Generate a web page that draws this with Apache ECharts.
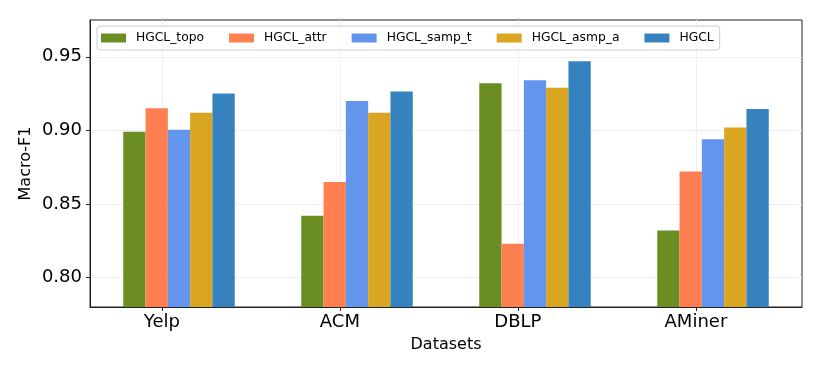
<!DOCTYPE html>
<html>
<head>
<meta charset="utf-8">
<script src="https://cdn.jsdelivr.net/npm/echarts@6/dist/echarts.min.js"></script>
<style>
	html, body { margin: 0; padding: 0; background: #fff; }
	#chart { width: 822px; height: 374px; }
</style>
</head>
<body>
<div id="chart"></div>
<script>
// datasets and methods
var datasets = ['Yelp', 'ACM', 'DBLP', 'AMiner'];
var methods = ['HGCL_topo', 'HGCL_attr', 'HGCL_samp_t', 'HGCL_asmp_a', 'HGCL'];
var colors = ['#6B8E23', '#FF7F50', '#6495ED', '#DAA520', '#3682BE'];

// Macro-F1 per dataset (Yelp, ACM, DBLP, AMiner)
var topoVals = [0.899, 0.842, 0.932, 0.832];
var attrVals = [0.915, 0.865, 0.823, 0.872];
var sampVals = [0.9005, 0.920, 0.934, 0.894];
var asmpVals = [0.912, 0.912, 0.929, 0.902];
var hgclVals = [0.925, 0.9265, 0.947, 0.9145];
var allVals = [topoVals, attrVals, sampVals, asmpVals, hgclVals];

var yTicks = [0.80, 0.85, 0.90, 0.95];
var xTicks = [0, 1, 2, 3];

var font = 'DejaVu Sans';
var myChart = echarts.init(document.getElementById('chart'));

var series = [];
for (var i = 0; i < methods.length; i++) {
	series.push({
		name: methods[i],
		type: 'bar',
		xAxisIndex: 0,
		barWidth: 22.3,
		barGap: '0%',
		itemStyle: { color: colors[i] },
		data: allVals[i]
	});
}

var option = {
	backgroundColor: '#fff',
	animation: false,
	textStyle: { fontFamily: font },
	grid: {
		left: 90, right: 20, top: 20, bottom: 67,
		show: true,
		borderColor: '#222',
		borderWidth: 1
	},
	legend: {
		left: 97,
		top: 26,
		padding: [6, 6, 6, 4],
		itemWidth: 25,
		itemHeight: 9,
		itemGap: 25,
		icon: 'rect',
		backgroundColor: 'rgba(255,255,255,0.8)',
		borderColor: '#cccccc',
		borderWidth: 1,
		borderRadius: 3,
		textStyle: { fontFamily: font, fontSize: 12.3, color: '#000', padding: [0, 0, 0, 5] },
		data: methods
	},
	xAxis: [{
		type: 'category',
		data: datasets,
		name: 'Datasets',
		nameLocation: 'middle',
		nameGap: 30,
		nameMoveOverlap: false,
		nameTextStyle: { fontFamily: font, fontSize: 16, color: '#000' },
		axisLine: { show: true, onZero: false, lineStyle: { color: '#222', width: 1 } },
		axisTick: { show: false },
		axisLabel: { show: false },
		splitLine: { show: false }
	}, {
		type: 'value',
		position: 'bottom',
		min: -0.404,
		max: 3.596,
		axisLine: { show: false, onZero: false },
		axisTick: { show: true, customValues: xTicks, length: 4, lineStyle: { color: '#222' } },
		axisLabel: {
			customValues: xTicks,
			margin: 6,
			fontFamily: font, fontSize: 18, color: '#000',
			formatter: function (v) { return datasets[Math.round(v)]; }
		},
		splitLine: { show: true, lineStyle: { color: '#f0f0f0', width: 1 } }
	}],
	yAxis: {
		type: 'value',
		min: 0.78,
		max: 0.975,
		name: 'Macro-F1',
		nameLocation: 'middle',
		nameGap: 56,
		nameMoveOverlap: false,
		nameTextStyle: { fontFamily: font, fontSize: 16, color: '#000' },
		axisLine: { show: true, onZero: false, lineStyle: { color: '#222', width: 1 } },
		axisTick: { show: true, customValues: yTicks, length: 4, lineStyle: { color: '#222' } },
		axisLabel: {
			customValues: yTicks,
			margin: 8,
			fontFamily: font, fontSize: 18, color: '#000',
			formatter: function (v) { return v.toFixed(2); }
		},
		splitLine: { show: true, lineStyle: { color: '#f0f0f0', width: 1 } }
	},
	series: series
};
myChart.setOption(option);
</script>
</body>
</html>
